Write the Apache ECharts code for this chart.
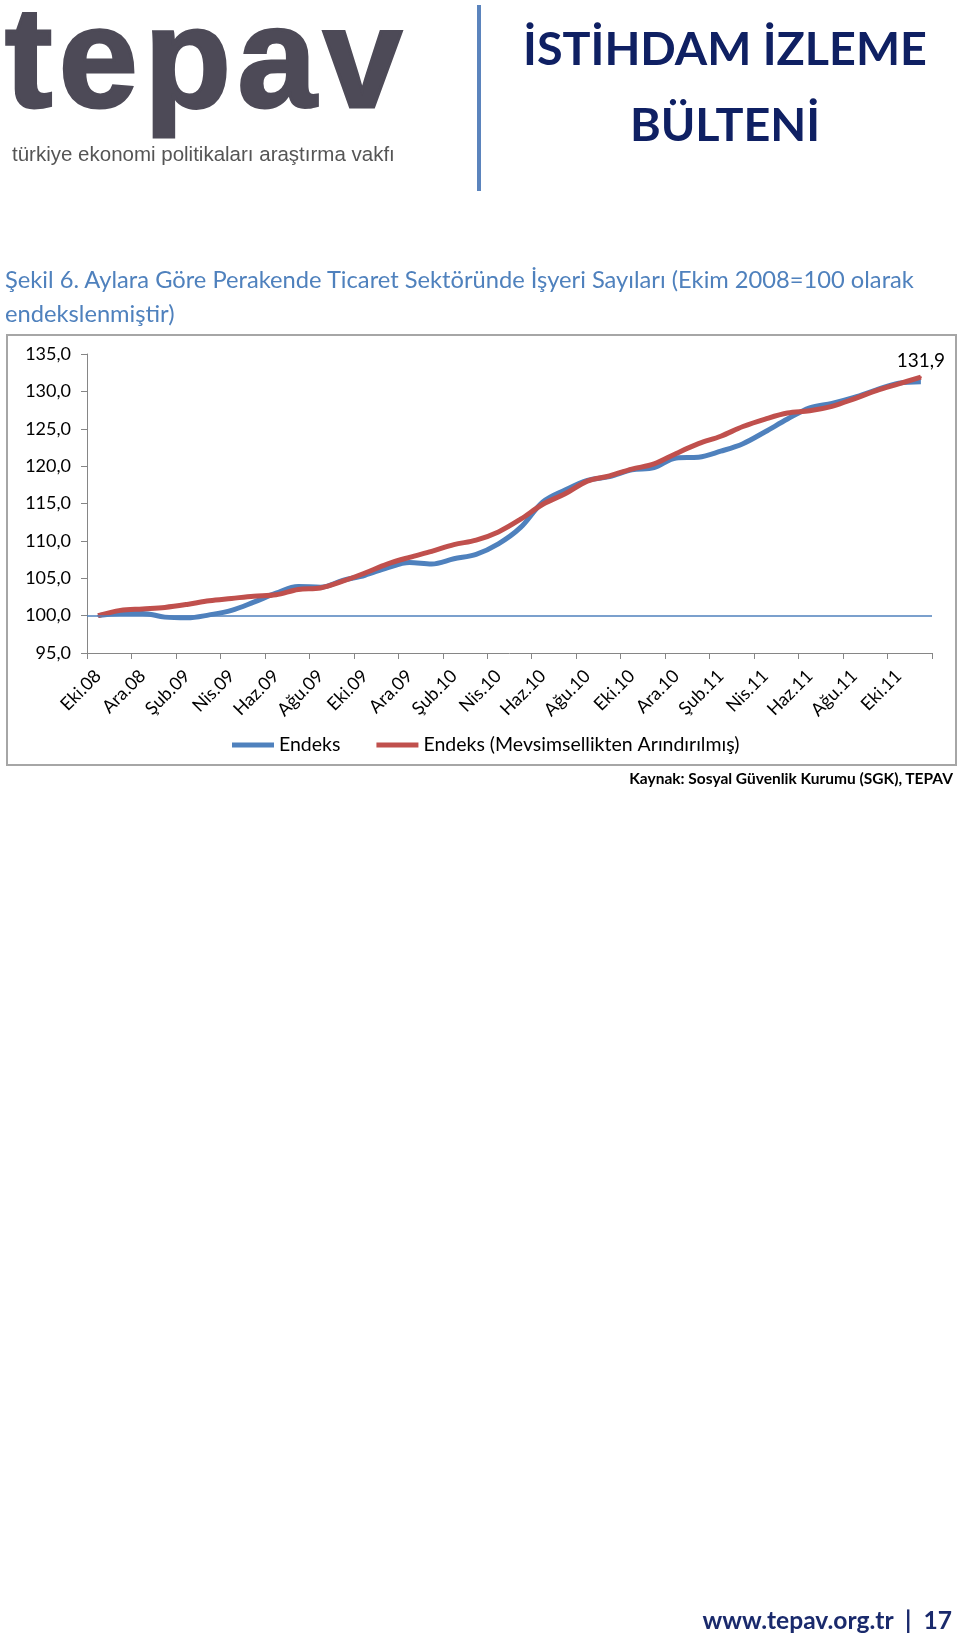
<!DOCTYPE html>
<html>
<head>
<meta charset="utf-8">
<script src="https://cdn.jsdelivr.net/npm/echarts@6/dist/echarts.min.js"></script>
<style>
  html, body { margin: 0; padding: 0; background: #ffffff; }
  body { width: 960px; height: 1639px; position: relative; overflow: hidden; }
  .abs { position: absolute; white-space: nowrap; }
  #logo { left: 5px; top: -13px; font-family: "Liberation Sans", Arial, sans-serif; font-weight: bold; font-size: 142px; color: #4d4a57; letter-spacing: 6.5px; line-height: 1; -webkit-text-stroke: 3px #4d4a57; }
  #logosub { left: 12px; top: 142px; font-family: "Liberation Sans", Arial, sans-serif; font-size: 20.5px; color: #555555; }
  #vbar { left: 477px; top: 5px; width: 4px; height: 186px; background: #5b84bd; }
  .hdr { font-family: Lato, "Noto Sans", sans-serif; font-weight: bold; font-size: 46.7px; color: #0f2063; left: 480px; width: 490px; text-align: center; line-height: 1; }
  #h1 { top: 24px; }
  #h2 { top: 100px; }
  .ttl { left: 5px; font-family: Lato, "Noto Sans", sans-serif; font-size: 23.7px; color: #4f81bd; line-height: 1; }
  #t1 { top: 268px; }
  #t2 { top: 302px; }
  #src { right: 7px; top: 769px; font-family: Lato, "Noto Sans", sans-serif; font-weight: bold; font-size: 15.5px; color: #000; }
  #foot { right: 8px; top: 1605px; font-family: Lato, "Noto Sans", sans-serif; font-weight: bold; font-size: 24.6px; color: #1a2a6c; }
  #chart { position: absolute; left: 0; top: 0; width: 960px; height: 1639px; }
</style>
</head>
<body>
<div id="chart"></div>
<div class="abs" id="logo">tepav</div>
<div class="abs" id="logosub">türkiye ekonomi politikaları araştırma vakfı</div>
<div class="abs" id="vbar"></div>
<div class="abs hdr" id="h1">İSTİHDAM İZLEME</div>
<div class="abs hdr" id="h2">BÜLTENİ</div>
<div class="abs ttl" id="t1">Şekil 6. Aylara Göre Perakende Ticaret Sektöründe İşyeri Sayıları (Ekim 2008=100 olarak</div>
<div class="abs ttl" id="t2">endekslenmiştir)</div>
<div class="abs" id="src">Kaynak: Sosyal Güvenlik Kurumu (SGK), TEPAV</div>
<div class="abs" id="foot">www.tepav.org.tr&nbsp;&nbsp;|&nbsp;&nbsp;17</div>
<script>
const categories = ["Eki.08","Kas.08","Ara.08","Oca.09","Şub.09","Mar.09","Nis.09","May.09","Haz.09","Tem.09",
  "Ağu.09","Eyl.09","Eki.09","Kas.09","Ara.09","Oca.10","Şub.10","Mar.10","Nis.10","May.10",
  "Haz.10","Tem.10","Ağu.10","Eyl.10","Eki.10","Kas.10","Ara.10","Oca.11","Şub.11","Mar.11",
  "Nis.11","May.11","Haz.11","Tem.11","Ağu.11","Eyl.11","Eki.11","Kas.11"];

const endeks = [100.0,100.3,100.3,99.8,99.7,100.1,100.7,101.8,103.0,103.9,
  103.8,104.7,105.4,106.4,107.1,106.9,107.6,108.2,109.6,111.8,
  115.2,116.8,118.1,118.6,119.5,119.8,121.1,121.2,122.0,123.0,
  124.6,126.3,127.8,128.4,129.2,130.2,131.1,131.3];

const endeksMA = [100.0,100.7,100.9,101.1,101.5,102.0,102.3,102.6,102.8,103.5,
  103.7,104.6,105.7,106.9,107.8,108.6,109.5,110.1,111.2,112.9,
  114.9,116.3,118.0,118.7,119.6,120.3,121.7,123.0,124.0,125.3,
  126.3,127.1,127.4,128.0,129.0,130.1,131.0,131.9];

const yTicks = { min: 95, max: 135, interval: 5 };
const seriesNames = ["Endeks", "Endeks (Mevsimsellikten Arındırılmış)"];
const baseValue = 100;

const fmt = v => v.toFixed(1).replace('.', ',');
const chart = echarts.init(document.getElementById('chart'), null, { renderer: 'canvas' });
const FONT = 'Lato, "Noto Sans", sans-serif';
const maData = endeksMA.map((v, i) => i === endeksMA.length - 1
  ? { value: v, label: { show: true, position: 'top', distance: 6, formatter: p => fmt(p.value), color: '#000', fontSize: 19, fontFamily: FONT } }
  : v);

chart.setOption({
  animation: false,
  color: ['#4f81bd', '#c0504d'],
  graphic: [{
    type: 'rect', z: -1,
    shape: { x: 7, y: 335, width: 949, height: 430 },
    style: { fill: '#ffffff', stroke: '#a6a6a6', lineWidth: 2 }
  }],
  grid: { left: 87, top: 354, width: 845, height: 299 },
  legend: {
    left: 232, top: 735, padding: 0,
    icon: 'rect', itemWidth: 42, itemHeight: 5, itemGap: 36,
    textStyle: { fontSize: 19.5, fontFamily: FONT, color: '#000' },
    data: seriesNames
  },
  xAxis: {
    type: 'category', data: categories, boundaryGap: true,
    axisLine: { lineStyle: { color: '#868686', width: 1 } },
    axisTick: { show: true, interval: 1, length: 6, lineStyle: { color: '#868686' } },
    axisLabel: { interval: 1, rotate: 45, margin: 20, fontSize: 18, fontFamily: FONT, color: '#000' },
    splitLine: { show: false }
  },
  yAxis: {
    type: 'value', min: yTicks.min, max: yTicks.max, interval: yTicks.interval,
    axisLine: { show: true, lineStyle: { color: '#868686', width: 1 } },
    axisTick: { show: true, length: 6, lineStyle: { color: '#868686' } },
    axisLabel: { formatter: fmt, margin: 16, fontSize: 18, fontFamily: FONT, color: '#000' },
    splitLine: { show: false }
  },
  series: [
    {
      name: seriesNames[0], type: 'line', data: endeks, smooth: 0.35, showSymbol: false,
      lineStyle: { width: 5, color: '#4f81bd' },
      markLine: {
        silent: true, symbol: 'none', label: { show: false },
        lineStyle: { color: '#4f81bd', width: 1.5, type: 'solid' },
        data: [{ yAxis: baseValue }]
      }
    },
    {
      name: seriesNames[1], type: 'line', data: maData, smooth: 0.35,
      showSymbol: true, symbol: 'circle', symbolSize: 2,
      itemStyle: { color: '#c0504d' },
      lineStyle: { width: 5, color: '#c0504d' }
    }
  ]
});
</script>
</body>
</html>
